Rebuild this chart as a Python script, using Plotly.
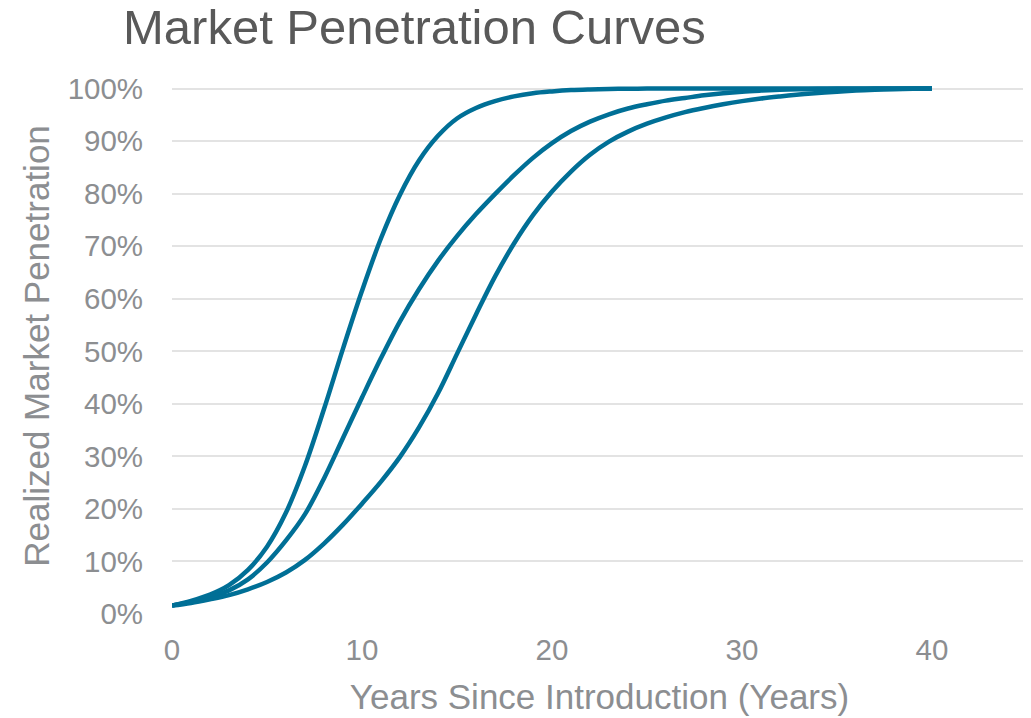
import plotly.graph_objects as go

years = list(range(0, 41))

fast_curve = [1.6, 2.5, 3.7, 5.5, 8.4, 12.8, 19.3, 28.2, 39.0, 50.5,
              61.5, 71.5, 79.8, 86.3, 91.0, 94.3, 96.3, 97.6, 98.5, 99.1,
              99.45, 99.7, 99.83, 99.91, 99.96, 99.98, 100, 100, 100, 100,
              100, 100, 100, 100, 100, 100, 100, 100, 100, 100, 100]

mid_curve = [1.6, 2.3, 3.2, 4.5, 6.6, 9.8, 14.0, 19.0, 25.8, 33.5,
             41.2, 48.7, 55.7, 61.8, 67.2, 71.9, 76.1, 79.9, 83.5, 86.8,
             89.6, 91.9, 93.7, 95.1, 96.2, 97.0, 97.7, 98.2, 98.7, 99.1,
             99.4, 99.6, 99.75, 99.85, 99.9, 99.94, 99.96, 99.98, 99.99, 100, 100]

slow_curve = [1.6, 2.1, 2.8, 3.6, 4.7, 6.1, 7.9, 10.3, 13.4, 17.0,
              21.0, 25.2, 29.9, 35.5, 42.0, 49.5, 57.0, 64.2, 70.5, 75.9,
              80.4, 84.2, 87.4, 89.9, 91.8, 93.3, 94.5, 95.5, 96.3, 97.0,
              97.6, 98.1, 98.5, 98.85, 99.15, 99.4, 99.6, 99.75, 99.87, 99.95, 100]

x_ticks = [0, 10, 20, 30, 40]

line_color = "#006F96"
tick_color = "#8C8E91"

fig = go.Figure()
for name, vals in [("Fast", fast_curve), ("Medium", mid_curve), ("Slow", slow_curve)]:
    fig.add_trace(go.Scatter(
        x=years, y=[v / 100 for v in vals], mode="lines", name=name,
        line=dict(color=line_color, width=4.5, shape="spline", smoothing=1.0),
        showlegend=False, cliponaxis=False,
    ))

fig.update_layout(
    width=1031, height=718,
    paper_bgcolor="white", plot_bgcolor="white",
    margin=dict(l=164, r=12, t=70, b=112),
    font=dict(family="Liberation Sans, Arial, sans-serif", color=tick_color),
    title=dict(text="Market Penetration Curves", x=115 / 1031, xref="container", xanchor="left",
               y=1 - 18.5 / 718, yref="container", yanchor="middle",
               font=dict(size=49, color="#595959")),
)
fig.update_xaxes(
    range=[0, 45], tickvals=x_ticks, showgrid=False, zeroline=False, showline=False,
    tickfont=dict(size=29.5, color=tick_color), automargin=False,
    ticks="outside", ticklen=10, tickcolor="rgba(0,0,0,0)",
    title=dict(text="Years Since Introduction (Years)", font=dict(size=35, color=tick_color), standoff=19),
)
fig.update_yaxes(
    range=[0, 1.02], tickvals=[i / 10 for i in range(11)], tickformat=".0%",
    showgrid=True, gridcolor="#E3E3E3", gridwidth=2, zeroline=False, showline=False,
    tickfont=dict(size=29.5, color=tick_color), automargin=False,
    ticks="outside", ticklen=22, tickcolor="rgba(0,0,0,0)",
    title=dict(text="Realized Market Penetration", font=dict(size=35, color=tick_color), standoff=7),
)

fig.write_html("out.html")
